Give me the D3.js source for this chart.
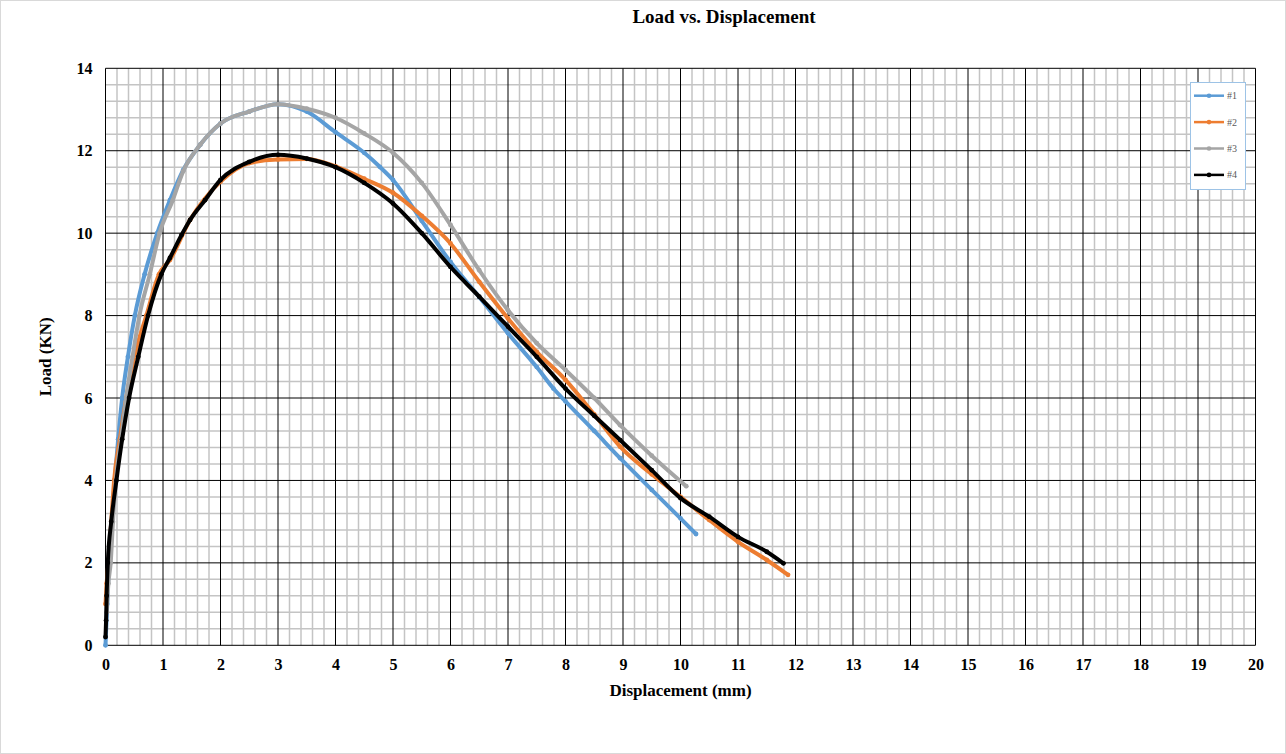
<!DOCTYPE html>
<html>
<head>
<meta charset="utf-8">
<script src="https://cdn.jsdelivr.net/npm/d3@7"></script>
<style>
  body { margin: 0; background: #fff; }
  svg text { font-family: "Liberation Serif", "Times New Roman", serif; }
</style>
</head>
<body>
<div id="chart"></div>
<script>
// readings (displacement mm / load kN)
const x1 = [0, 0.03, 0.06, 0.11, 0.16, 0.22, 0.29, 0.39, 0.51, 0.68, 0.9, 1.12, 1.35, 1.65, 2.0, 2.5, 3.0, 3.5, 4.0, 4.5, 4.77, 5.0, 5.5, 6.0, 6.5, 7.0, 7.5, 7.79, 8.0, 8.5, 8.95, 9.5, 10.0, 10.27];
const y1 = [0, 1.0, 2.0, 3.0, 4.0, 5.0, 6.0, 7.0, 8.0, 9.0, 10.0, 10.8, 11.53, 12.15, 12.66, 12.95, 13.13, 12.95, 12.45, 11.95, 11.61, 11.29, 10.3, 9.3, 8.45, 7.57, 6.75, 6.23, 5.92, 5.2, 4.54, 3.77, 3.08, 2.7];

const x2 = [0, 0.02, 0.05, 0.1, 0.15, 0.25, 0.36, 0.5, 0.71, 0.93, 1.12, 1.47, 2.0, 2.5, 3.0, 3.5, 4.0, 4.5, 5.0, 5.5, 6.0, 6.5, 7.0, 7.5, 8.0, 8.5, 8.95, 9.5, 10.0, 10.5, 11.0, 11.5, 11.87];
const y2 = [1.0, 1.5, 2.0, 3.0, 4.0, 5.0, 6.0, 7.0, 8.0, 9.0, 9.35, 10.32, 11.25, 11.7, 11.79, 11.8, 11.62, 11.32, 10.98, 10.42, 9.75, 8.82, 7.93, 7.12, 6.44, 5.6, 4.82, 4.15, 3.6, 3.04, 2.51, 2.07, 1.71];

const x3 = [0.02, 0.05, 0.09, 0.13, 0.18, 0.27, 0.36, 0.47, 0.59, 0.77, 0.94, 1.17, 1.35, 1.65, 2.0, 2.5, 3.0, 3.5, 4.0, 4.5, 5.0, 5.5, 6.0, 6.5, 7.0, 7.5, 8.0, 8.5, 8.95, 9.5, 10.1];
const y3 = [0.8, 1.5, 2.0, 3.0, 4.0, 5.0, 6.0, 7.0, 8.0, 9.0, 10.0, 10.8, 11.5, 12.15, 12.66, 12.95, 13.13, 13.02, 12.8, 12.42, 11.95, 11.22, 10.2, 9.1, 8.13, 7.33, 6.68, 6.0, 5.34, 4.6, 3.86];

const x4 = [0, 0.01, 0.02, 0.04, 0.1, 0.19, 0.29, 0.41, 0.57, 0.74, 0.97, 1.12, 1.32, 1.47, 1.73, 2.0, 2.5, 3.0, 3.5, 4.0, 4.5, 5.0, 5.5, 6.0, 6.5, 7.0, 7.5, 8.0, 8.5, 8.95, 9.5, 10.0, 10.5, 11.0, 11.5, 11.79];
const y4 = [0.2, 0.6, 1.2, 2.0, 3.0, 4.0, 5.0, 6.0, 7.0, 8.0, 9.0, 9.4, 9.95, 10.32, 10.8, 11.29, 11.73, 11.9, 11.81, 11.6, 11.22, 10.72, 10.0, 9.18, 8.46, 7.73, 7.0, 6.23, 5.57, 4.98, 4.25, 3.57, 3.12, 2.63, 2.27, 1.99];

const seriesNames = ["#1", "#2", "#3", "#4"];
const seriesColors = ["#5b9bd5", "#ed7d31", "#a5a5a5", "#000000"];
const xTicks = d3.range(0, 21, 1);
const yTicks = d3.range(0, 15, 2);

const series = [[x1, y1], [x2, y2], [x3, y3], [x4, y4]].map(([xs, ys], i) => ({
    name: seriesNames[i],
    color: seriesColors[i],
    values: xs.map((x, j) => ({ x: x, y: ys[j] }))
}));

const width = 1286, height = 754;
const margin = { top: 68.3, right: 30.5, bottom: 108.7, left: 105.5 };

const svg = d3.select("#chart").append("svg")
    .attr("width", width)
    .attr("height", height);

// chart area border
svg.append("rect")
    .attr("x", 0.5).attr("y", 0.5)
    .attr("width", width - 1).attr("height", height - 1)
    .attr("fill", "#fff").attr("stroke", "#d9d9d9");

const x = d3.scaleLinear().domain([0, 20]).range([margin.left, width - margin.right]);
const y = d3.scaleLinear().domain([0, 14]).range([height - margin.bottom, margin.top]);

// minor grid
const grid = svg.append("g");
grid.selectAll("line.mx")
    .data(d3.range(0, 100).map(i => i * 0.2).filter(v => Math.abs(v - Math.round(v)) > 0.01))
    .join("line")
    .attr("x1", d => x(d)).attr("x2", d => x(d))
    .attr("y1", y(0)).attr("y2", y(14))
    .attr("stroke", "#c4c4c4").attr("stroke-width", 1.5);
grid.selectAll("line.my")
    .data(d3.range(0, 35).map(i => i * 0.4).filter(v => Math.abs(v / 2 - Math.round(v / 2)) > 0.01))
    .join("line")
    .attr("x1", x(0)).attr("x2", x(20))
    .attr("y1", d => y(d)).attr("y2", d => y(d))
    .attr("stroke", "#c4c4c4").attr("stroke-width", 1.5);

// major grid
grid.selectAll("line.Mx")
    .data(xTicks)
    .join("line")
    .attr("x1", d => x(d)).attr("x2", d => x(d))
    .attr("y1", y(0)).attr("y2", y(14))
    .attr("stroke", "#000").attr("stroke-width", 1);
grid.selectAll("line.My")
    .data(yTicks)
    .join("line")
    .attr("x1", x(0)).attr("x2", x(20))
    .attr("y1", d => y(d)).attr("y2", d => y(d))
    .attr("stroke", "#000").attr("stroke-width", 1);

// axes (labels only)
const xAxis = svg.append("g")
    .attr("transform", `translate(0,${y(0)})`)
    .call(d3.axisBottom(x).tickValues(xTicks).tickSize(0).tickPadding(13));
const yAxis = svg.append("g")
    .attr("transform", `translate(${x(0)},0)`)
    .call(d3.axisLeft(y).tickValues(yTicks).tickSize(0).tickPadding(13));
[xAxis, yAxis].forEach(a => {
    a.select(".domain").remove();
    a.selectAll("text")
        .attr("font-family", "'Liberation Serif', serif")
        .attr("font-weight", "bold")
        .attr("font-size", 16)
        .attr("fill", "#000");
});

// series
const line = d3.line()
    .x(d => x(d.x))
    .y(d => y(d.y))
    .curve(d3.curveMonotoneX);

const sg = svg.append("g").selectAll("g")
    .data(series)
    .join("g");
sg.append("path")
    .attr("d", d => line(d.values))
    .attr("fill", "none")
    .attr("stroke", d => d.color)
    .attr("stroke-width", 4)
    .attr("stroke-linejoin", "round")
    .attr("stroke-linecap", "round");
sg.selectAll("circle")
    .data(d => d.values.map(v => ({ ...v, color: d.color })))
    .join("circle")
    .attr("cx", d => x(d.x))
    .attr("cy", d => y(d.y))
    .attr("r", 2.4)
    .attr("fill", d => d.color);

// titles
svg.append("text")
    .attr("x", 724).attr("y", 23)
    .attr("text-anchor", "middle")
    .attr("font-weight", "bold")
    .attr("font-size", 19)
    .text("Load vs. Displacement");

svg.append("text")
    .attr("x", (x(0) + x(20)) / 2).attr("y", 696)
    .attr("text-anchor", "middle")
    .attr("font-weight", "bold")
    .attr("font-size", 17)
    .text("Displacement (mm)");

svg.append("text")
    .attr("transform", `translate(51,${(y(0) + y(14)) / 2}) rotate(-90)`)
    .attr("text-anchor", "middle")
    .attr("font-weight", "bold")
    .attr("font-size", 17)
    .text("Load (KN)");

// legend
const legend = svg.append("g");
legend.append("rect")
    .attr("x", 1190.5).attr("y", 82.5)
    .attr("width", 55).attr("height", 107)
    .attr("fill", "#fff")
    .attr("stroke", "#9dc3e6");
const item = legend.selectAll("g.item")
    .data(series)
    .join("g")
    .attr("transform", (d, i) => `translate(1194,${95.7 + i * 26.4})`);
item.append("line")
    .attr("x1", 0).attr("x2", 30)
    .attr("stroke", d => d.color)
    .attr("stroke-width", 2.5);
item.append("circle")
    .attr("cx", 15).attr("r", 2.3)
    .attr("fill", d => d.color);
item.append("text")
    .attr("x", 33).attr("dy", "0.35em")
    .attr("font-family", "'Liberation Sans', Arial, sans-serif")
    .attr("font-size", 10)
    .attr("fill", "#595959")
    .text(d => d.name);
</script>
</body>
</html>
